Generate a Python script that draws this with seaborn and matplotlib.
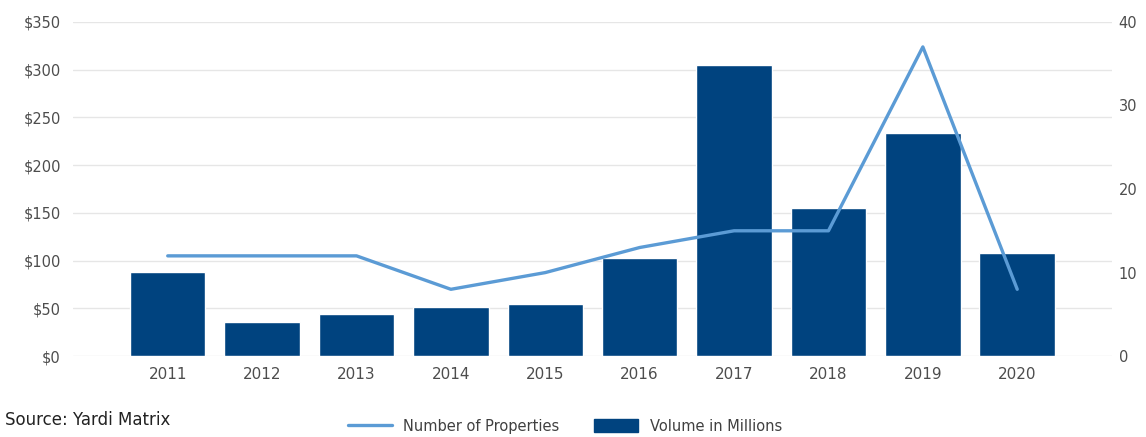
import matplotlib
matplotlib.use("Agg")
import matplotlib.pyplot as plt
import seaborn as sns
import pandas as pd
from matplotlib.patches import Patch
from matplotlib.lines import Line2D

years = ["2011", "2012", "2013", "2014", "2015", "2016", "2017", "2018", "2019", "2020"]
volume_millions = [88, 36, 44, 51, 55, 103, 305, 155, 234, 108]
num_properties = [12, 12, 12, 8, 10, 13, 15, 15, 37, 8]

left_ticks = [0, 50, 100, 150, 200, 250, 300, 350]
left_labels = ["$0", "$50", "$100", "$150", "$200", "$250", "$300", "$350"]
right_ticks = [0, 10, 20, 30, 40]

bar_color = "#00437f"
line_color = "#5b9bd5"
tick_color = "#4d4d4d"
grid_color = "#e6e6e6"

sns.set_theme(style="white")
plt.rcParams["font.family"] = ["DejaVu Sans"]

df = pd.DataFrame({"year": years, "volume": volume_millions,
                   "props": num_properties, "pos": range(len(years))})

fig = plt.figure(figsize=(11.46, 4.37), dpi=100)
ax = fig.add_axes([0.064, 0.185, 0.906, 0.765])

sns.barplot(data=df, x="year", y="volume", color=bar_color, saturation=1,
            width=0.8, ax=ax, zorder=2)
ax.set_ylim(0, 350)
ax.set_xlim(-1.0, 10.0)
ax.set_yticks(left_ticks)
ax.set_yticklabels(left_labels)
ax.yaxis.grid(True, color=grid_color, linewidth=1.0)
ax.set_axisbelow(True)
ax.set_xlabel("")
ax.set_ylabel("")
for s in ax.spines.values():
    s.set_visible(False)
ax.tick_params(axis="y", length=0, labelsize=10.5, colors=tick_color, pad=9)
ax.tick_params(axis="x", length=0, labelsize=11, colors=tick_color, pad=8)

ax2 = ax.twinx()
sns.lineplot(data=df, x="pos", y="props", color=line_color, linewidth=2.4,
             ax=ax2, zorder=3)
ax2.set_ylim(0, 40)
ax2.set_yticks(right_ticks)
ax2.set_xlim(-1.0, 10.0)
ax2.set_ylabel("")
ax2.set_xlabel("")
for s in ax2.spines.values():
    s.set_visible(False)
ax2.tick_params(axis="y", length=0, labelsize=10.5, colors=tick_color, pad=5)
ax2.grid(False)

handles = [Line2D([0], [0], color=line_color, linewidth=2.4),
           Patch(facecolor=bar_color, edgecolor=bar_color)]
fig.legend(handles, ["Number of Properties", "Volume in Millions"],
           loc="center", bbox_to_anchor=(0.493, 0.025), ncol=2, frameon=False,
           fontsize=10.5, labelcolor="#404040", handlelength=3.0,
           handleheight=0.9, columnspacing=2.4)

fig.text(0.004, 0.04, "Source: Yardi Matrix", fontsize=12, color="#222222",
         ha="left", va="center")

fig.savefig("out.png", dpi=100)
